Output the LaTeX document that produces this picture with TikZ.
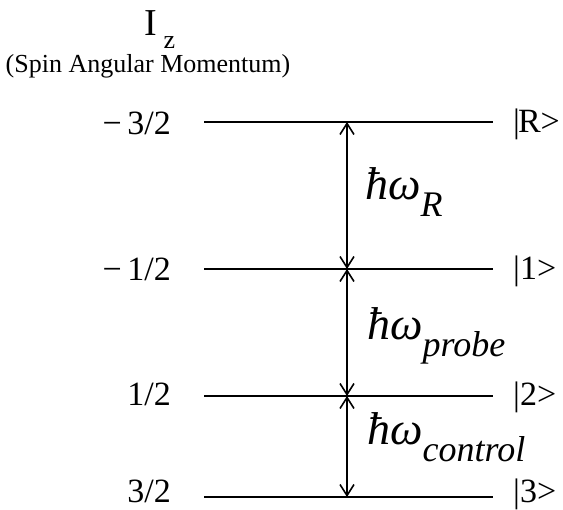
\documentclass[tikz,border=0pt]{standalone}
\usepackage{fontspec}
\setmainfont{Liberation Serif}
\usetikzlibrary{arrows.meta}
\begin{document}
\begin{tikzpicture}[x=1pt,y=-1pt,
  level/.style={line width=1.8pt},
  trans/.style={line width=1.6pt,{Straight Barb[length=11pt,width=14pt,line width=1.6pt]}-{Straight Barb[length=11pt,width=14pt,line width=1.6pt]}},
  val/.style={font=\fontsize{34}{34}\selectfont, anchor=base east, inner sep=0pt},
  ket/.style={font=\fontsize{34}{34}\selectfont, anchor=base west, inner sep=0pt},
  energy/.style={font=\fontsize{46}{46}\selectfont\itshape, anchor=base west, inner sep=0pt},
  ttl/.style={anchor=base, inner sep=0pt}]
\useasboundingbox (0,0) rectangle (563,510);
\newcommand{\sbs}[1]{\raisebox{-17pt}{\fontsize{36}{36}\selectfont\itshape #1}}
% title
\node[ttl, font=\fontsize{38}{38}\selectfont] (iz) at (160,36) {I\,\raisebox{-13pt}{\fontsize{26}{26}\selectfont z}};
\node[ttl, font=\fontsize{26}{26}\selectfont] (sub) at (148,73) {(Spin Angular Momentum)};
% levels
\coordinate (aL) at (204,122); \coordinate (aR) at (493,122);
\coordinate (bL) at (204,269); \coordinate (bR) at (493,269);
\coordinate (cL) at (204,396); \coordinate (cR) at (493,396);
\coordinate (dL) at (204,497); \coordinate (dR) at (493,497);
\draw[level] (aL) -- (aR);
\draw[level] (bL) -- (bR);
\draw[level] (cL) -- (cR);
\draw[level] (dL) -- (dR);
% arrows
\coordinate (ta) at (347,122); \coordinate (tb) at (347,269);
\coordinate (tc) at (347,396); \coordinate (td) at (347,497);
\draw[trans] (ta) -- (tb);
\draw[trans] (tb) -- (tc);
\draw[trans] (tc) -- (td);
% values
\node[val] (va) at (171,135) {−\,3/2};
\node[val] (vb) at (171,281) {−\,1/2};
\node[val] (vc) at (171,406) {1/2};
\node[val] (vd) at (171,503) {3/2};
% kets
\node[ket] (ka) at (513,133) {|\kern-2ptR>};
\node[ket] (kb) at (513,280) {|1>};
\node[ket] (kc) at (513,406) {|2>};
\node[ket] (kd) at (513,503) {|3>};
% energies
\node[energy] (ea) at (365,200) {ħω\sbs{R}};
\node[energy] (eb) at (367,340) {ħω\sbs{probe}};
\node[energy] (ec) at (367,445) {ħω\sbs{control}};
\end{tikzpicture}
\end{document}
